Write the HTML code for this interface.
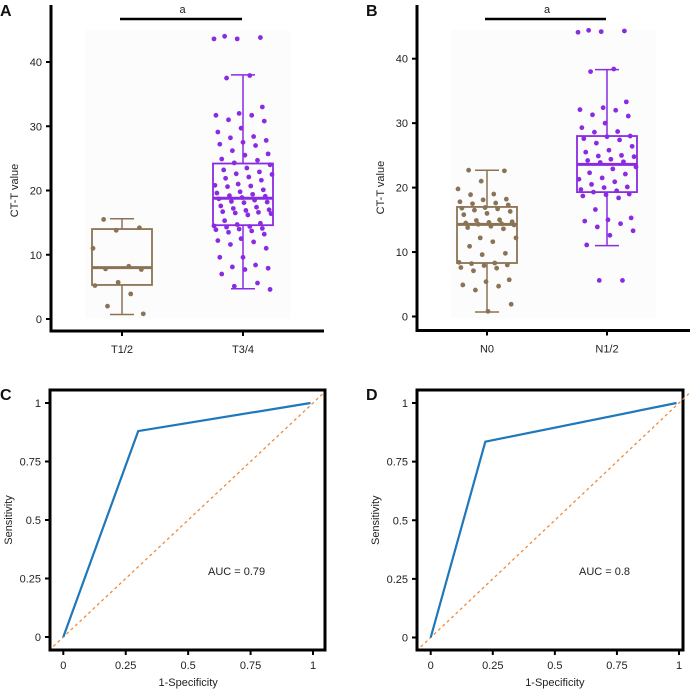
<!DOCTYPE html>
<html><head><meta charset="utf-8"><style>
body{margin:0;background:#fff}
svg{display:block;font-family:"Liberation Sans",sans-serif}
</style></head><body>
<svg id="fig" width="700" height="691" viewBox="0 0 700 691"></svg>
<script>
// ---- data ----
const groupsA = ["T1/2","T3/4"];
const groupsB = ["N0","N1/2"];
const boxA = [ {lo:0.7,q1:5.3,med:8,q3:14,hi:15.6}, {lo:4.7,q1:14.6,med:18.8,q3:24.2,hi:38} ];
const boxB = [ {lo:0.7,q1:8.3,med:14.3,q3:17,hi:22.7}, {lo:11,q1:19.3,med:23.6,q3:28,hi:38.3} ];
const ptsA1 = [15.5,14.2,13.8,11,8.2,7.8,7.7,5.7,5.2,3.9,2,0.8];
const ptsA2 = [44,43.8,43.6,43.6,37.9,37.5,33,32,31.7,31.7,31,30.8,29.7,29.1,28.4,28.2,27.8,27.5,27.2,27,26.2,25.7,25.5,24.9,24.7,24.3,24,23.5,23.2,22.9,22.6,22.5,22.1,21.9,21.6,21,20.8,20.7,20.6,20.1,19.8,19.6,19.4,19.2,19.1,18.9,18.7,18.5,18.3,18.2,18.1,17.6,17.4,17.2,17,16.9,16.7,16.6,16.5,16.4,16.2,15.3,14.9,14.7,14.5,14.4,14.3,14.1,14,13.9,13.7,13.5,13.2,12.5,12.2,12,11.6,11,9.6,9.6,8.4,8.1,7.9,7.7,7,5.6,5.1,4.6];
const ptsB1 = [22.7,22.6,21,19.8,19,18.9,18.2,18.1,17.8,17.6,17.5,17.3,16.9,16.8,16.7,16.5,16.3,16,15.8,15,14.9,14.7,14.6,14.5,14.4,14.3,14.2,14,13.8,13.6,12.2,12.2,11.6,10.9,9.8,9.6,8.4,8.3,8.2,8,7.9,7.6,7.5,7.1,5.7,5.4,4.9,4.7,4.1,1.9,0.8];
const ptsB2 = [44.4,44.3,44.2,44.1,38.4,38,33.3,32.4,32.1,32,31.3,31.1,30,29.3,28.7,28.6,28,27.9,27.6,27.4,26.9,26.4,25.8,25.5,25,24.9,24.8,24.4,24.2,24,23.9,23.2,22.9,22.3,22.1,21.5,21.3,20.9,20.5,20.1,20,19.7,19.5,19.3,19,18.9,18.7,18.4,16.6,15.3,15,14.8,14.4,13.9,13.3,12.6,11.1,5.6,5.6];
const rocC_x = [0,0.3,0.99];
const rocC_y = [0,0.88,1];
const rocD_x = [0,0.22,0.99];
const rocD_y = [0,0.835,1];
const yTicksBox = [0,10,20,30,40];
const rocTicks = [0,0.25,0.5,0.75,1];
const rocTickLabels = ["0","0.25","0.5","0.75","1"];

const NS="http://www.w3.org/2000/svg";
const svg=document.getElementById('fig');
function mk(tag,attrs,parent,text){const e=document.createElementNS(NS,tag);for(const k in attrs)e.setAttribute(k,attrs[k]);if(text!==undefined)e.textContent=text;(parent||svg).appendChild(e);return e;}
const BROWN="#8b7355", PURPLE="#8a2be2";

function boxPanel(o){
  const g=mk('g',{});
  
  
  const ys=v=>o.y0+(o.y40-o.y0)*v/40;
  mk('rect',{x:o.bgx,y:30,width:205,height:288,fill:'#fcfcfd'},g);
  const ya=mk('line',{x1:o.ax,y1:5,x2:o.ax,y2:o.axY+1.5,stroke:'#000','stroke-width':3},g);
  
  const xa=mk('line',{x1:o.ax,y1:o.axY,x2:o.ax+273,y2:o.axY,stroke:'#000','stroke-width':3},g);
  
  yTicksBox.forEach(t=>{
    mk('line',{x1:o.ax-5,y1:ys(t),x2:o.ax,y2:ys(t),stroke:'#000','stroke-width':2},g);
    const tl=mk('text',{x:o.ax-9,y:ys(t)+4,'text-anchor':'end','font-size':11,fill:'#222'},g,String(t));
    
  });
  const yt=mk('text',{transform:`translate(${o.ax-33},${ys(20)}) rotate(-90)`,'text-anchor':'middle','font-size':11,fill:'#222'},g,'CT-T value');
  
  const pl=mk('text',{x:o.lx,y:16,'font-size':16,'font-weight':'bold',fill:'#111'},g,o.letter);
  
  const sb=mk('line',{x1:o.cx[0]-2,y1:19,x2:o.cx[1]-1,y2:19,stroke:'#000','stroke-width':2.5},g);
  
  mk('text',{x:(o.cx[0]+o.cx[1])/2,y:13,'text-anchor':'middle','font-size':11,fill:'#222'},g,'a');
  o.groups.forEach((gn,i)=>{
    const cx=o.cx[i], col=i?PURPLE:BROWN, b=o.box[i];
    mk('line',{x1:cx,y1:o.axY,x2:cx,y2:o.axY+5,stroke:'#000','stroke-width':2},g);
    const xl=mk('text',{x:cx,y:o.axY+22,'text-anchor':'middle','font-size':11,fill:'#222'},g,gn);
    
    const bg=mk('g',{},g);
    
    mk('line',{x1:cx,y1:ys(b.hi),x2:cx,y2:ys(b.q3),stroke:col,'stroke-width':1.5},bg);
    mk('line',{x1:cx,y1:ys(b.q1),x2:cx,y2:ys(b.lo),stroke:col,'stroke-width':1.5},bg);
    mk('line',{x1:cx-12,y1:ys(b.hi),x2:cx+12,y2:ys(b.hi),stroke:col,'stroke-width':1.5},bg);
    mk('line',{x1:cx-12,y1:ys(b.lo),x2:cx+12,y2:ys(b.lo),stroke:col,'stroke-width':1.5},bg);
    mk('rect',{x:cx-30,y:ys(b.q3),width:60,height:ys(b.q1)-ys(b.q3),fill:'none',stroke:col,'stroke-width':1.8},bg);
    mk('line',{x1:cx-30,y1:ys(b.med),x2:cx+30,y2:ys(b.med),stroke:col,'stroke-width':3},bg);
    o.pts[i].forEach((v,j)=>{
      const jit=(((j*37+11)%61)/60-0.5)*58;
      const c=mk('circle',{cx:cx+jit,cy:ys(v),r:2.4,fill:col},bg);
      
      
    });
  });
}
boxPanel({name:'panel-a',letter:'A',lx:0,ax:51,axY:331,y0:319,y40:62,bgx:85,cx:[122,243],groups:groupsA,box:boxA,pts:[ptsA1,ptsA2]});
boxPanel({name:'panel-b',letter:'B',lx:366,ax:417,axY:330.5,y0:316.5,y40:58.7,bgx:451,cx:[487,607],groups:groupsB,box:boxB,pts:[ptsB1,ptsB2]});

function rocPanel(o){
  const g=mk('g',{});
  
  
  const xs=v=>o.x0+(o.x1-o.x0)*v, ys=v=>o.y0+(o.y1-o.y0)*v;
  const fr=mk('rect',{x:o.bx,y:390,width:o.bw,height:260,fill:'none',stroke:'#000','stroke-width':3},g);
  
  rocTicks.forEach((t,i)=>{
    mk('line',{x1:xs(t),y1:650,x2:xs(t),y2:655,stroke:'#000','stroke-width':2},g);
    const xl=mk('text',{x:xs(t),y:669,'text-anchor':'middle','font-size':11,fill:'#222'},g,rocTickLabels[i]);
    
    mk('line',{x1:o.bx-5,y1:ys(t),x2:o.bx,y2:ys(t),stroke:'#000','stroke-width':2},g);
    const yl=mk('text',{x:o.bx-9,y:ys(t)+4,'text-anchor':'end','font-size':11,fill:'#222'},g,rocTickLabels[i]);
    
  });
  const xt=mk('text',{x:xs(0.5),y:686,'text-anchor':'middle','font-size':11,fill:'#222'},g,'1-Specificity');
  
  const yt=mk('text',{transform:`translate(${o.bx-38},${ys(0.5)}) rotate(-90)`,'text-anchor':'middle','font-size':11,fill:'#222'},g,'Sensitivity');
  
  const pl=mk('text',{x:o.lx,y:400,'font-size':16,'font-weight':'bold',fill:'#111'},g,o.letter);
  
  const dg=mk('line',{x1:xs(-0.04),y1:ys(-0.04),x2:xs(1.04),y2:ys(1.04),stroke:'#f08a3c','stroke-width':1.3,'stroke-dasharray':'3,3'},g);
  
  const d=o.rx.map((v,i)=>(i?'L':'M')+xs(v)+','+ys(o.ry[i])).join(' ');
  const rl=mk('path',{d:d,fill:'none',stroke:'#1f78b9','stroke-width':2.2},g);
  
  const at=mk('text',{x:o.ax,y:575,'font-size':11,fill:'#222'},g,o.auc);
  
}
rocPanel({name:'panel-c',letter:'C',lx:0,bx:50,bw:275,x0:63.3,x1:313,y0:637,y1:403,rx:rocC_x,ry:rocC_y,auc:'AUC = 0.79',ax:208});
rocPanel({name:'panel-d',letter:'D',lx:366,bx:417,bw:266,x0:430.7,x1:679,y0:637.5,y1:403,rx:rocD_x,ry:rocD_y,auc:'AUC = 0.8',ax:579});
</script>
</body></html>
